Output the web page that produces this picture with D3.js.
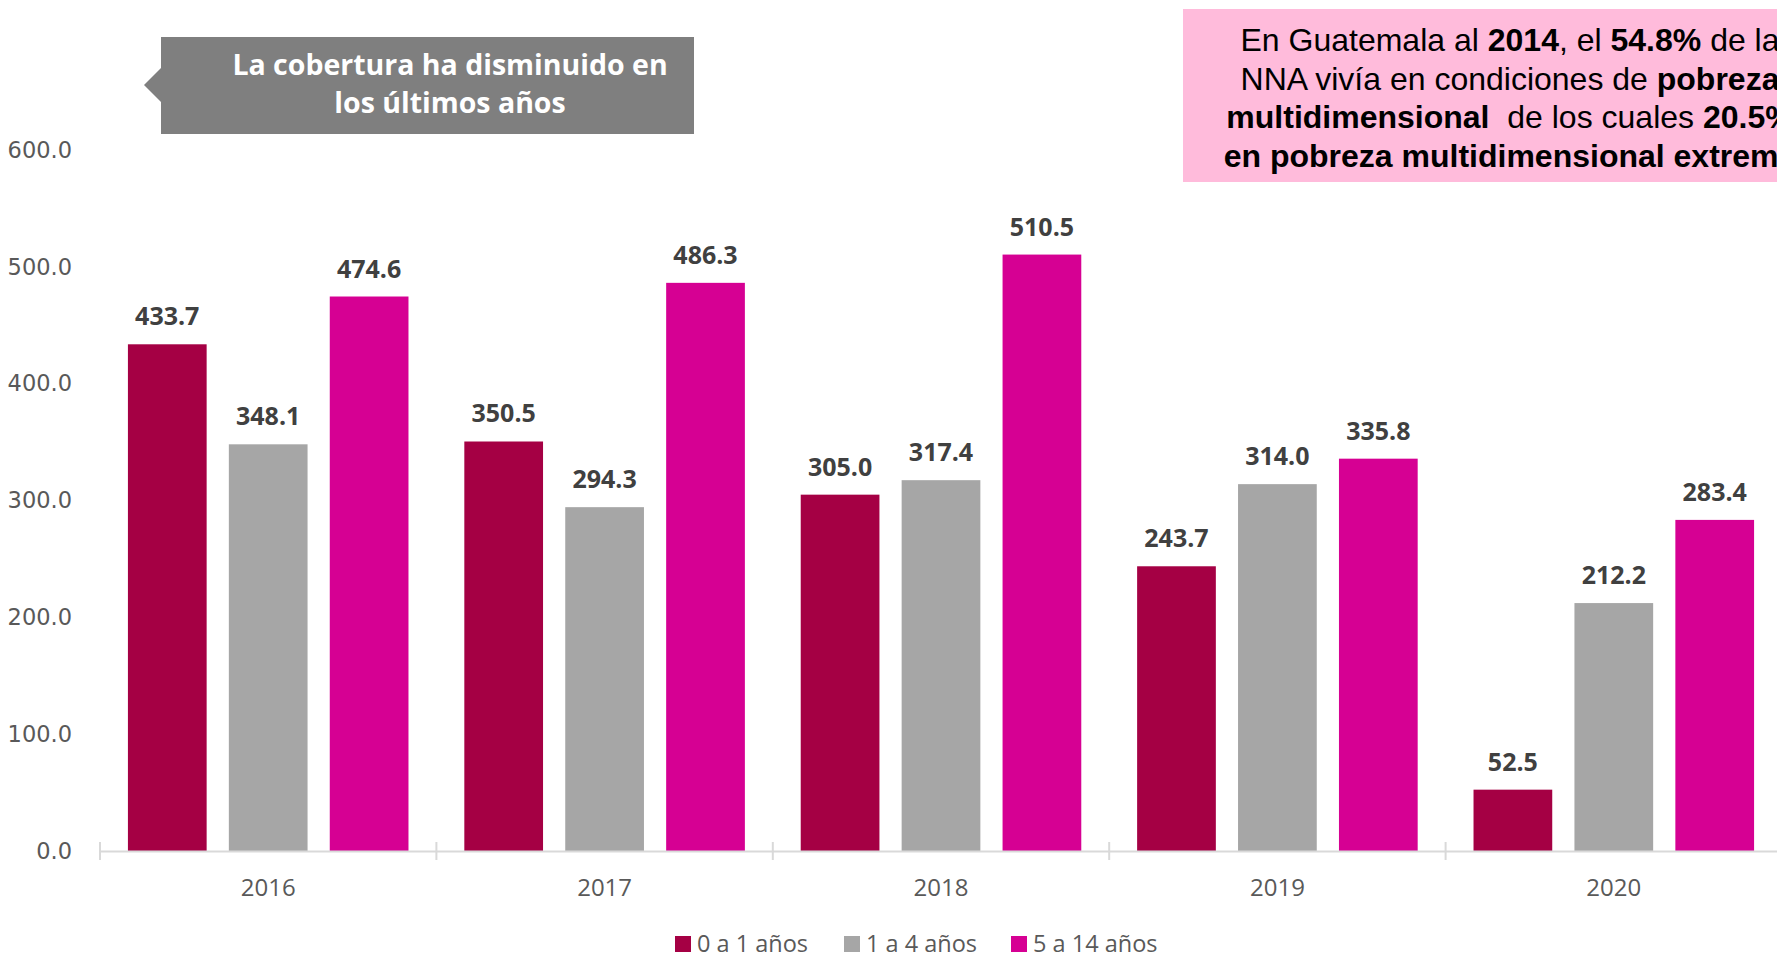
<!DOCTYPE html>
<html>
<head>
<meta charset="utf-8">
<script src="https://cdn.jsdelivr.net/npm/d3@7"></script>
<style>
  body { margin: 0; background: #fff; overflow: hidden; }
  svg { display: block; }
</style>
</head>
<body>
<div id="chart"></div>
<script>
// data
var years = ["2016", "2017", "2018", "2019", "2020"];
var series = ["0 a 1 años", "1 a 4 años", "5 a 14 años"];
var edad0a1 = [433.7, 350.5, 305.0, 243.7, 52.5];
var edad1a4 = [348.1, 294.3, 317.4, 314.0, 212.2];
var edad5a14 = [474.6, 486.3, 510.5, 335.8, 283.4];
var yTicks = [0, 100, 200, 300, 400, 500, 600];
var colors = ["#A50044", "#A6A6A6", "#D60093"];

var W = 1777, H = 959;
var values = [edad0a1, edad1a4, edad5a14];
var sans = "'Open Sans', sans-serif";

var svg = d3.select("#chart").append("svg")
    .attr("width", W)
    .attr("height", H);

// scales
var x0 = d3.scaleBand().domain(years).range([100, 1782]).padding(0);
var bw = x0.bandwidth();
var x1 = d3.scaleBand().domain(series)
    .range([bw * 0.083, bw * 0.917])
    .paddingInner(0.22);
var y = d3.scaleLinear().domain([0, 600]).range([851, 150]);

// y axis (labels only)
var yAxis = d3.axisLeft(y).tickValues(yTicks).tickFormat(d3.format(".1f"))
    .tickSize(0).tickPadding(28);
var gy = svg.append("g")
    .attr("transform", "translate(100,0)")
    .call(yAxis);
gy.select(".domain").remove();
gy.selectAll("text")
    .style("font-family", "'DejaVu Sans', sans-serif")
    .style("font-size", "22.5px")
    .style("fill", "#595959");

// bars
var groups = svg.selectAll("g.year")
    .data(years)
    .enter().append("g")
    .attr("class", "year")
    .attr("transform", function(d) { return "translate(" + x0(d) + ",0)"; });

groups.each(function(yr, i) {
    var g = d3.select(this);
    var rows = series.map(function(s, k) { return {s: s, v: values[k][i], c: colors[k]}; });
    g.selectAll("rect")
        .data(rows)
        .enter().append("rect")
        .attr("x", function(d) { return x1(d.s); })
        .attr("y", function(d) { return y(d.v); })
        .attr("width", x1.bandwidth())
        .attr("height", function(d) { return y(0) - y(d.v); })
        .style("fill", function(d) { return d.c; });
    g.selectAll("text.val")
        .data(rows)
        .enter().append("text")
        .attr("class", "val")
        .attr("x", function(d) { return x1(d.s) + x1.bandwidth() / 2; })
        .attr("y", function(d) { return y(d.v) - 19; })
        .attr("text-anchor", "middle")
        .style("font-family", sans)
        .style("font-weight", "bold")
        .style("font-size", "25px")
        .style("fill", "#404040")
        .text(function(d) { return d3.format(".1f")(d.v); });
});

// x axis
var xAxis = d3.axisBottom(x0).tickSize(0).tickPadding(28);
var gx = svg.append("g")
    .attr("transform", "translate(0,851)")
    .call(xAxis);
gx.select(".domain").style("stroke", "#D9D9D9").style("stroke-width", 2);
gx.selectAll("text")
    .style("font-family", sans)
    .style("font-size", "24px")
    .style("fill", "#595959");
gx.selectAll("line.sep")
    .data(years)
    .enter().append("line")
    .attr("class", "sep")
    .attr("x1", function(d) { return x0(d); })
    .attr("x2", function(d) { return x0(d); })
    .attr("y1", -9)
    .attr("y2", 9)
    .style("stroke", "#D9D9D9")
    .style("stroke-width", 2);

// legend
var legendX = [675, 844, 1011];
var legend = svg.selectAll("g.leg")
    .data(series)
    .enter().append("g")
    .attr("class", "leg")
    .attr("transform", function(d, i) { return "translate(" + legendX[i] + ",936)"; });
legend.append("rect")
    .attr("width", 16).attr("height", 16)
    .style("fill", function(d, i) { return colors[i]; });
legend.append("text")
    .attr("x", 22).attr("y", 16)
    .style("font-family", sans)
    .style("font-size", "23.5px")
    .style("fill", "#595959")
    .text(function(d) { return d; });

// grey callout
svg.append("path")
    .attr("d", "M161,37 L694,37 L694,134 L161,134 L161,102 L144,85 L161,68 Z")
    .style("fill", "#7F7F7F");
var callout = svg.append("text")
    .attr("text-anchor", "middle")
    .style("font-family", sans)
    .style("font-weight", "bold")
    .style("font-size", "28.5px")
    .style("fill", "#ffffff");
callout.append("tspan").attr("x", 450).attr("y", 75).text("La cobertura ha disminuido en");
callout.append("tspan").attr("x", 450).attr("y", 113).text("los últimos años");

// pink note box
svg.append("rect")
    .attr("x", 1183).attr("y", 9)
    .attr("width", 700).attr("height", 173)
    .style("fill", "#FFBBDB");
var note = svg.append("text")
    .attr("text-anchor", "middle")
    .attr("xml:space", "preserve")
    .style("white-space", "pre")
    .style("font-family", "'Liberation Sans', Arial, sans-serif")
    .style("font-size", "32px")
    .style("fill", "#000");
var lines = [
    [["En Guatemala al ", 0], ["2014", 1], [", el ", 0], ["54.8%", 1], [" de la", 0]],
    [["NNA vivía en condiciones de ", 0], ["pobreza", 1]],
    [["multidimensional", 1], ["  de los cuales ", 0], ["20.5%", 1]],
    [["en pobreza multidimensional extrema", 1]]
];
lines.forEach(function(parts, i) {
    var t = note.append("tspan").attr("x", 1510).attr("y", 51 + i * 38.5);
    parts.forEach(function(p, j) {
        var s = j === 0 ? t : note.append("tspan");
        s.text(p[0]).style("font-weight", p[1] ? "bold" : "normal");
    });
});
</script>
</body>
</html>
